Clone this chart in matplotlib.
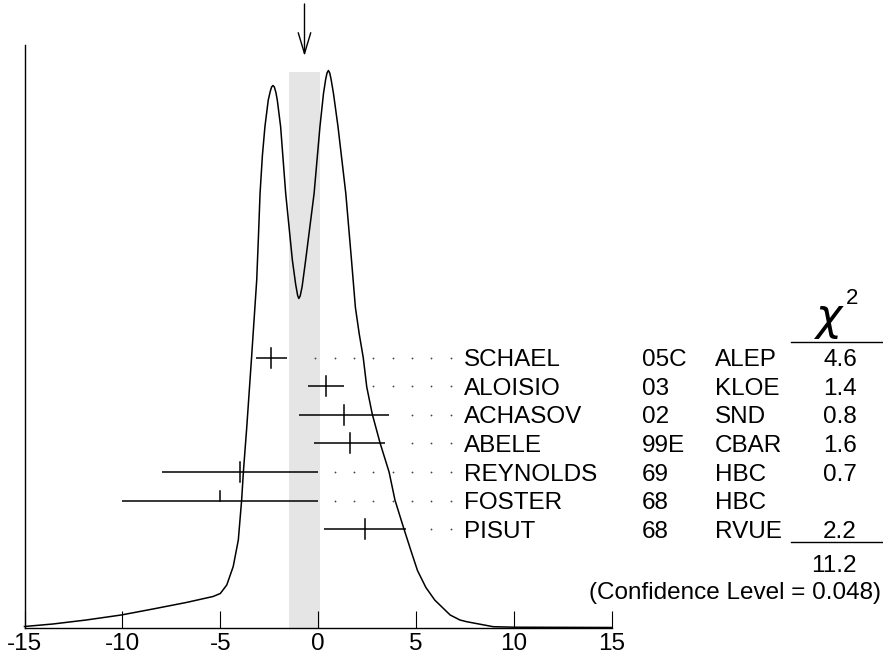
import matplotlib
matplotlib.use('Agg')
import matplotlib.pyplot as plt
from matplotlib.lines import Line2D

W, H = 883, 669
plt.rcParams['font.family'] = ['Liberation Sans', 'DejaVu Sans']

# ---------------- data ----------------
names = ['SCHAEL', 'ALOISIO', 'ACHASOV', 'ABELE', 'REYNOLDS', 'FOSTER', 'PISUT']
years = ['05C', '03', '02', '99E', '69', '68', '68']
expts = ['ALEP', 'KLOE', 'SND', 'CBAR', 'HBC', 'HBC', 'RVUE']
values = [-2.4, 0.4, 1.3, 1.6, -4.0, -5.0, 2.4]
errors = [0.8, 0.9, 2.3, 1.8, 4.0, 5.0, 2.1]
chi2 = ['4.6', '1.4', '0.8', '1.6', '0.7', '', '2.2']
used = [True, True, True, True, True, False, True]
chi2_total = '11.2'
conf_level = '(Confidence Level = 0.048)'
average = -0.7
avg_error = 0.79

# ideogram curve (arbitrary units)
curve_x = [-15.0, -13.55, -11.85, -10.06, -8.44, -6.74, -5.37, -5.0, -4.67, -4.34,
           -4.08, -3.91, -3.82, -3.65, -3.40, -3.14, -3.05, -2.97, -2.85, -2.72,
           -2.55, -2.45, -2.38, -2.31, -2.24, -2.16, -2.09, -1.92, -1.66, -1.32,
           -1.15, -1.05, -0.99, -0.92, -0.82, -0.64, -0.21, 0.09, 0.27, 0.38,
           0.45, 0.52, 0.59, 0.66, 0.78, 1.01, 1.41, 1.70, 1.90, 2.10,
           2.30, 2.48, 2.76, 3.16, 3.62, 3.92, 4.38, 4.75, 5.07, 5.50,
           5.95, 6.74, 7.24, 7.58, 8.94, 10.0, 15.0]
curve_y = [1.0, 3.5, 7.5, 12.5, 18.5, 25.0, 31.0, 34.0, 42.5, 61.0,
           87.5, 127.5, 156.0, 200.0, 271.0, 347.5, 392.0, 434.0, 472.0, 501.0,
           527.5, 536.0, 540.5, 542.0, 540.5, 535.0, 527.5, 501.0, 434.0, 367.5,
           343.0, 332.0, 329.0, 331.5, 341.0, 367.5, 434.0, 501.0, 534.0, 548.0,
           554.5, 557.0, 554.5, 548.0, 534.0, 501.0, 434.0, 367.5, 320.0, 293.0,
           270.0, 240.5, 213.5, 184.5, 155.5, 127.5, 98.5, 76.0, 57.0, 40.0,
           27.5, 12.5, 7.5, 5.8, 0.8, 0.3, 0.0]

xticks = [-15, -10, -5, 0, 5, 10, 15]
xticklabels = ['-15', '-10', '-5', '0', '5', '10', '15']

# ---------------- layout ----------------
fig = plt.figure(figsize=(W / 100, H / 100), dpi=100)
px0, px1 = 24.5, 611.9
base_px, top_px = 627.5, 45.0
ax = fig.add_axes([px0 / W, (H - base_px) / H, (px1 - px0) / W, (base_px - top_px) / H])
ax.set_xlim(-15, 15)
ax.set_ylim(0, base_px - top_px)
for s in ('top', 'right'):
    ax.spines[s].set_visible(False)
for s in ('left', 'bottom'):
    ax.spines[s].set_linewidth(1.0)
ax.set_yticks([])
ax.set_xticks(xticks)
ax.set_xticklabels(xticklabels, fontsize=17.5)
ax.tick_params(axis='x', direction='in', length=12.2, width=0.8, pad=4)

fs = 17.5
FS_PX = fs * 100 / 72
cap = 0.716 * FS_PX

def fy(py):
    return 1 - py / H

# shaded band of the average
band_top = base_px - 72
ax.axvspan(average - avg_error, average + avg_error, ymin=0, ymax=band_top / (base_px - top_px),
           color='#e5e5e5', lw=0, zorder=0)

# curve
ax.plot(curve_x, curve_y, color='black', lw=1.1, zorder=3, clip_on=False,
        solid_joinstyle='round')

# arrow at average
ax.annotate('', xy=(average, base_px - 56), xytext=(average, base_px - 4),
            arrowprops=dict(arrowstyle='->,head_length=1.5,head_width=0.45', lw=1.0,
                            color='black', mutation_scale=10, shrinkA=0, shrinkB=0),
            annotation_clip=False)

# measurements
row0_px, row_dy = 357.5, 28.6
dot_last, dot_step = 6.77, 0.988
for i, (v, e) in enumerate(zip(values, errors)):
    rpx = row0_px + i * row_dy
    h = base_px - rpx
    ax.plot([v - e, v + e], [h, h], color='black', lw=1.1, zorder=4, solid_capstyle='butt')
    if used[i]:
        ax.plot([v, v], [h - 10, h + 10], color='black', lw=1.1, zorder=4)
    else:
        ax.plot([v, v], [h, h + 10], color='black', lw=1.1, zorder=4)
    gx = []
    g = dot_last
    while g > v + e + 0.7:
        gx.append(g)
        g -= dot_step
    ax.plot(gx, [h] * len(gx), ls='none', marker='o', ms=1.3, color='#444444',
            mec='none', zorder=4, clip_on=False)
    yb = fy(rpx + cap / 2)
    fig.text(464.3 / W, yb, names[i], fontsize=fs, va='baseline', ha='left')
    fig.text(641.7 / W, yb, years[i], fontsize=fs, va='baseline', ha='left')
    fig.text(715.0 / W, yb, expts[i], fontsize=fs, va='baseline', ha='left')
    if chi2[i]:
        fig.text(857.0 / W, yb, chi2[i], fontsize=fs, va='baseline', ha='right')

# chi^2 header
fig.text(845.5 / W, fy(330), r'$\chi$', fontsize=32, va='baseline', ha='right')
fig.text(858.0 / W, fy(304), '2', fontsize=16, va='baseline', ha='right')
fig.add_artist(Line2D([790.7 / W, 882.7 / W], [fy(341.7)] * 2, color='black', lw=1.0))
fig.add_artist(Line2D([790.7 / W, 882.7 / W], [fy(542.3)] * 2, color='black', lw=1.0))
fig.text(857.0 / W, fy(563 + cap / 2), chi2_total, fontsize=fs, va='baseline', ha='right')
fig.text(881.0 / W, fy(590 + cap / 2), conf_level, fontsize=fs, va='baseline', ha='right')

fig.savefig('out.png', dpi=100)
